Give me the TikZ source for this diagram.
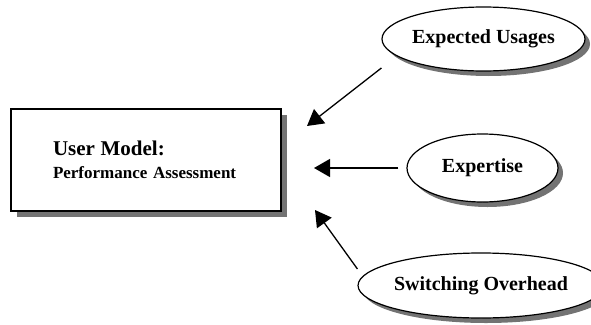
\documentclass[tikz,border=0pt]{standalone}
\usepackage{fontspec}
\setmainfont{Liberation Serif}
\usepackage{tikz}
\usetikzlibrary{positioning,shapes.geometric,shadows,arrows.meta}

\begin{document}
\begin{tikzpicture}[x=1pt,y=-1pt,
  factor/.style={ellipse, draw, line width=1.2pt, fill=white, inner sep=0pt,
    font=\fontsize{20}{24}\selectfont\bfseries,
    drop shadow={shadow xshift=5pt, shadow yshift=-5pt, fill=black!55, opacity=1}},
  feed/.style={-{Triangle[length=16pt,width=18pt]}, line width=1.3pt}]
\useasboundingbox (0,0) rectangle (591,324);
% the model box
\node[draw, line width=2pt, fill=white, minimum width=270pt, minimum height=102pt,
  text width=186pt, align=left, font=\fontsize{17}{23}\selectfont\bfseries,
  drop shadow={shadow xshift=6pt, shadow yshift=-6pt, fill=black!55, opacity=1}]
  (model) at (146,160)
  {{\fontsize{21}{23}\selectfont User Model:}\\ Performance Assessment};
% the factors feeding it
\node[factor, minimum width=203pt, minimum height=64pt] (usage) at (483.5,39) {Expected Usages};
\node[factor, minimum width=151pt, minimum height=68pt] (expert) at (482.5,168) {Expertise};
\node[factor, minimum width=214pt, minimum height=65pt] (switch) at (481,285.5) {Switching Overhead};
\coordinate (tipA) at (307,126);
\coordinate (tipB) at (314,168);
\coordinate (tipC) at (315,210);
\draw[feed] ([yshift=-29pt]usage.west) -- (tipA);
\draw[feed, shorten <=8pt] (expert.west) -- (tipB);
\draw[feed] ([yshift=16.5pt]switch.west) -- (tipC);
\end{tikzpicture}
\end{document}
